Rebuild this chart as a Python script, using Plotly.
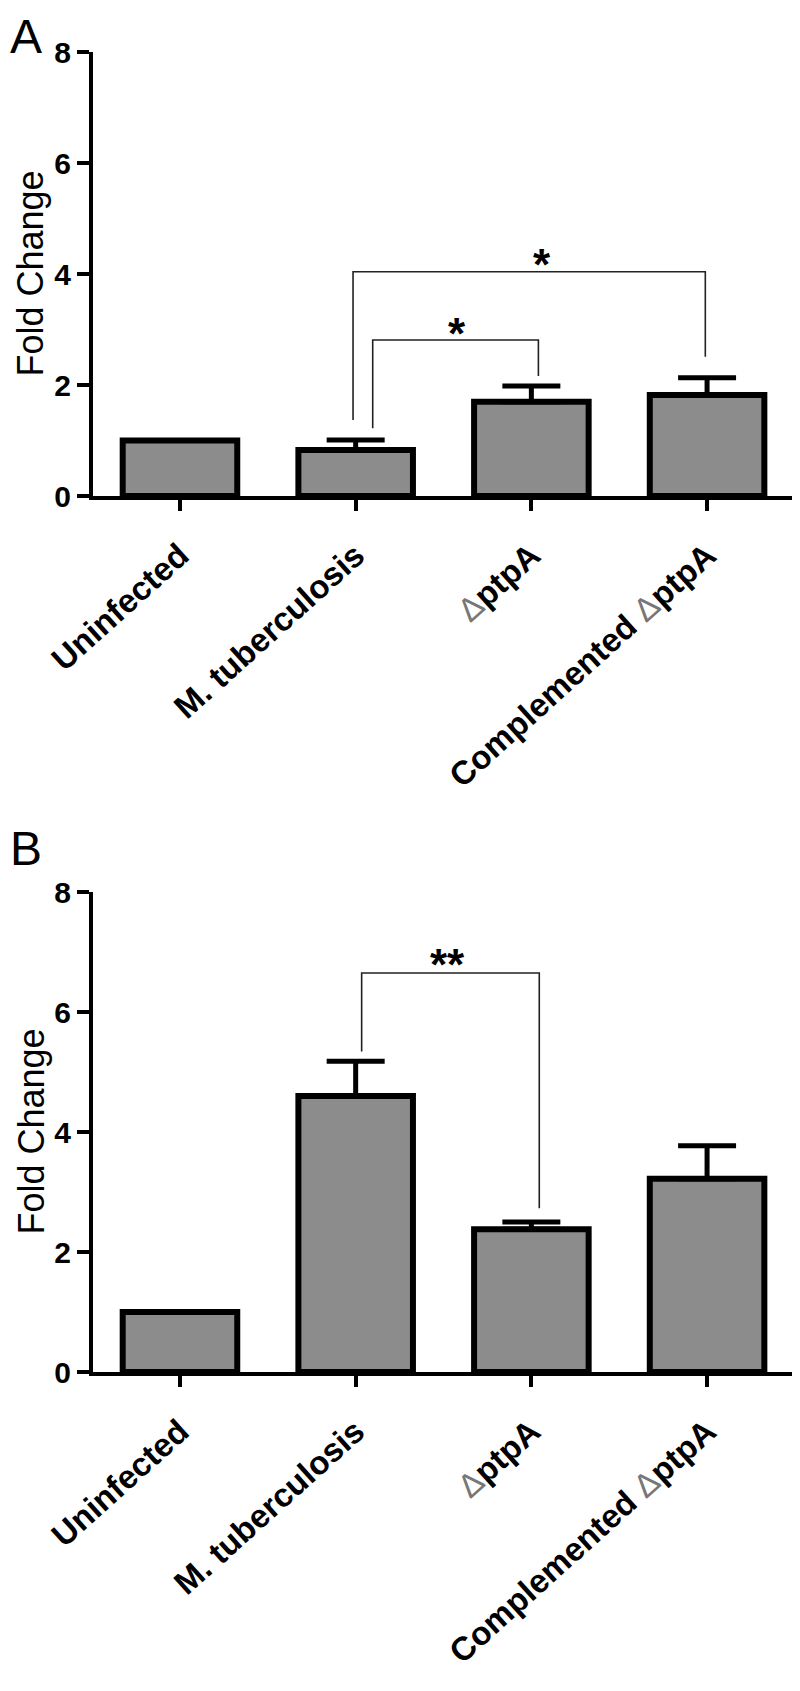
import plotly.graph_objects as go

# ---------------- data ----------------
categories = ["Uninfected", "M. tuberculosis", "ΔptpA", "Complemented ΔptpA"]
tick_labels = ["Uninfected", "M. tuberculosis",
               "<span style='font-weight:normal;fill:#777777'>Δ</span>ptpA",
               "Complemented <span style='font-weight:normal;fill:#777777'>Δ</span>ptpA"]
fold_A = [1.0, 0.83, 1.70, 1.82]
err_A = [None, 0.18, 0.28, 0.31]
fold_B = [1.0, 4.60, 2.38, 3.22]
err_B = [None, 0.58, 0.12, 0.55]
y_ticks = [0, 2, 4, 6, 8]

# significance brackets: (x_left, x_right, y_top, y_left_bottom, y_right_bottom)
brackets_A = [(0.985, 2.99, 4.04, 1.37, 2.51), (1.097, 2.04, 2.81, 1.22, 2.16)]
stars_A = [(2.06, 4.18, "*"), (1.577, 2.92, "*")]
brackets_B = [(1.034, 2.045, 6.65, 5.34, 2.73)]
stars_B = [(1.525, 6.79, "**")]

# ---------------- layout geometry ----------------
PAGE_MARGIN = 8          # default body margin of the html page
W, H = 800 - 2 * PAGE_MARGIN, 1691 - 2 * PAGE_MARGIN
L, R = 93 - PAGE_MARGIN, 0
FONT = "Arial, 'Liberation Sans', sans-serif"
pos = list(range(len(categories)))

def py(p):  # full-page pixel y -> paper
    return 1 - (p - PAGE_MARGIN) / H

def px(p):  # full-page pixel x -> paper
    return (p - PAGE_MARGIN - L) / (W - L - R)

fig = go.Figure()

panels = [
    ("x", "y", fold_A, err_A, brackets_A, stars_A, (496, 52), "A", 8),
    ("x2", "y2", fold_B, err_B, brackets_B, stars_B, (1372, 892), "B", 820),
]

for xa, ya, vals, errs, brackets, stars, (pb, pt), label, ltop in panels:
    fig.add_trace(go.Bar(
        x=pos, y=vals, xaxis=xa, yaxis=ya, width=0.652,
        marker=dict(color="#8c8c8c", line=dict(color="black", width=6)),
        error_y=dict(type="data", symmetric=False, array=errs,
                     arrayminus=[0 if e is not None else None for e in errs],
                     color="black", thickness=5, width=29),
        showlegend=False,
    ))
    for (x0, x1, yt, yl, yr) in brackets:
        fig.add_trace(go.Scatter(
            x=[x0, x0, x1, x1], y=[yl, yt, yt, yr], mode="lines",
            line=dict(color="#222222", width=1.6), xaxis=xa, yaxis=ya,
            showlegend=False, hoverinfo="skip",
        ))
    for (sx, sy, st) in stars:
        fig.add_annotation(x=sx, y=sy, xref=xa, yref=ya, text=st, showarrow=False,
                           font=dict(family=FONT, size=44, color="black", weight="bold"),
                           xanchor="center", yanchor="middle")
    # panel label
    fig.add_annotation(x=px(PAGE_MARGIN), y=py(ltop), xref="paper", yref="paper", text=label,
                       showarrow=False, xanchor="left", yanchor="top",
                       font=dict(family=FONT, size=48, color="black"))
    # y title
    fig.add_annotation(x=px(PAGE_MARGIN), y=py((pb + pt) / 2), xref="paper", yref="paper",
                       text="Fold Change", textangle=-90, showarrow=False,
                       xanchor="left", yanchor="middle",
                       font=dict(family=FONT, size=36, color="black"))

axis_common = dict(showline=True, linecolor="black", linewidth=4, ticks="outside",
                   tickcolor="black", tickwidth=4, showgrid=False, zeroline=False,
                   automargin=False)

xrange_ = [-0.495, -0.495 + (W - L - R) / 175.7]

xaxis_style = dict(domain=[0, 1], range=xrange_, tickvals=pos, ticktext=tick_labels,
                   tickangle=-42, ticklen=11, ticklabelstandoff=12,
                   tickfont=dict(family=FONT, size=33, color="black", weight="bold"),
                   **axis_common)
yaxis_style = dict(range=[0, 8], tickvals=y_ticks, ticklen=12,
                   tickfont=dict(family=FONT, size=30, color="black", weight="bold"),
                   **axis_common)

fig.update_layout(
    width=W, height=H, margin=dict(l=L, r=R, t=0, b=0, autoexpand=False),
    paper_bgcolor="white", plot_bgcolor="white",
    xaxis=dict(anchor="y", **xaxis_style),
    yaxis=dict(domain=[py(496), py(52)], anchor="x", **yaxis_style),
    xaxis2=dict(anchor="y2", **xaxis_style),
    yaxis2=dict(domain=[py(1372), py(892)], anchor="x2", **yaxis_style),
)

fig.write_html("out.html")
